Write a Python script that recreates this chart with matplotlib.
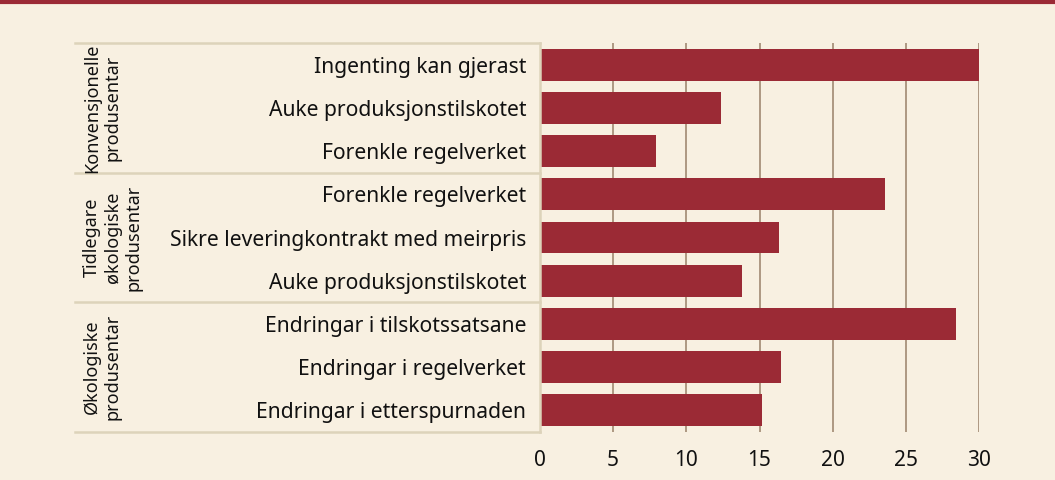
import numpy as np
import matplotlib.pyplot as plt
from matplotlib.lines import Line2D
import matplotlib.transforms as mtransforms

plt.rcParams['font.family'] = ['Noto Sans', 'DejaVu Sans']

# data
groups = ['Konvensjonelle\nprodusentar',
          'Tidlegare\nøkologiske\nprodusentar',
          'Økologiske\nprodusentar']
group_sizes = [3, 3, 3]
labels = ['Ingenting kan gjerast',
          'Auke produksjonstilskotet',
          'Forenkle regelverket',
          'Forenkle regelverket',
          'Sikre leveringkontrakt med meirpris',
          'Auke produksjonstilskotet',
          'Endringar i tilskotssatsane',
          'Endringar i regelverket',
          'Endringar i etterspurnaden']
values = [30.0, 12.4, 7.9, 23.6, 16.3, 13.8, 28.4, 16.5, 15.2]
xticks = [0, 5, 10, 15, 20, 25, 30]

bg = '#F8F0E1'
bar_col = '#9B2A35'
sep_col = '#DDD3BA'
grid_col = '#A8917A'
txt_col = '#111111'

W, H = 1055, 480
fig = plt.figure(figsize=(W / 100, H / 100), dpi=100, facecolor=bg)
ax = fig.add_axes([540 / W, (H - 432) / H, 439 / W, 389 / H])
ax.set_facecolor(bg)

y = np.arange(len(values))
ax.barh(y, values, height=0.74, color=bar_col, zorder=3)
ax.set_ylim(len(values) - 0.5, -0.5)
ax.set_xlim(0, 30)

ax.set_yticks(y)
ax.set_yticklabels(labels, fontsize=15.2, color=txt_col)
ax.set_xticks(xticks)
ax.set_xticklabels([str(t) for t in xticks], fontsize=15, color=txt_col)
ax.tick_params(axis='both', length=0)
ax.tick_params(axis='y', pad=10)
ax.tick_params(axis='x', pad=13)

ax.xaxis.grid(True, color=grid_col, lw=1.3, zorder=1)
ax.set_axisbelow(True)
for s in ['top', 'right', 'bottom']:
    ax.spines[s].set_visible(False)
ax.spines['left'].set_color(sep_col)
ax.spines['left'].set_linewidth(1.8)
ax.spines['left'].set_zorder(4)

# group separators
trans = mtransforms.blended_transform_factory(ax.transAxes, ax.transData)
x0 = (75 - 540) / 439
bounds = np.concatenate([[0], np.cumsum(group_sizes)]) - 0.5
for b in bounds:
    ax.add_line(Line2D([x0, 0], [b, b], transform=trans, color=sep_col,
                       lw=1.8, clip_on=False))

# group labels
for i, g in enumerate(groups):
    yc = (bounds[i] + bounds[i + 1]) / 2
    disp = ax.transData.transform((0, yc))
    fy = fig.transFigure.inverted().transform(disp)[1]
    fig.text(83 / W, fy, g, rotation=90, ha='left', va='center',
             multialignment='center', fontsize=13, color=txt_col,
             linespacing=1.2)

# top band
fig.add_artist(Line2D([0, 1], [1 - 2 / H, 1 - 2 / H], transform=fig.transFigure,
                      color='#9B2A35', lw=3))

plt.savefig('out.png', dpi=100, facecolor=bg)
plt.close()
